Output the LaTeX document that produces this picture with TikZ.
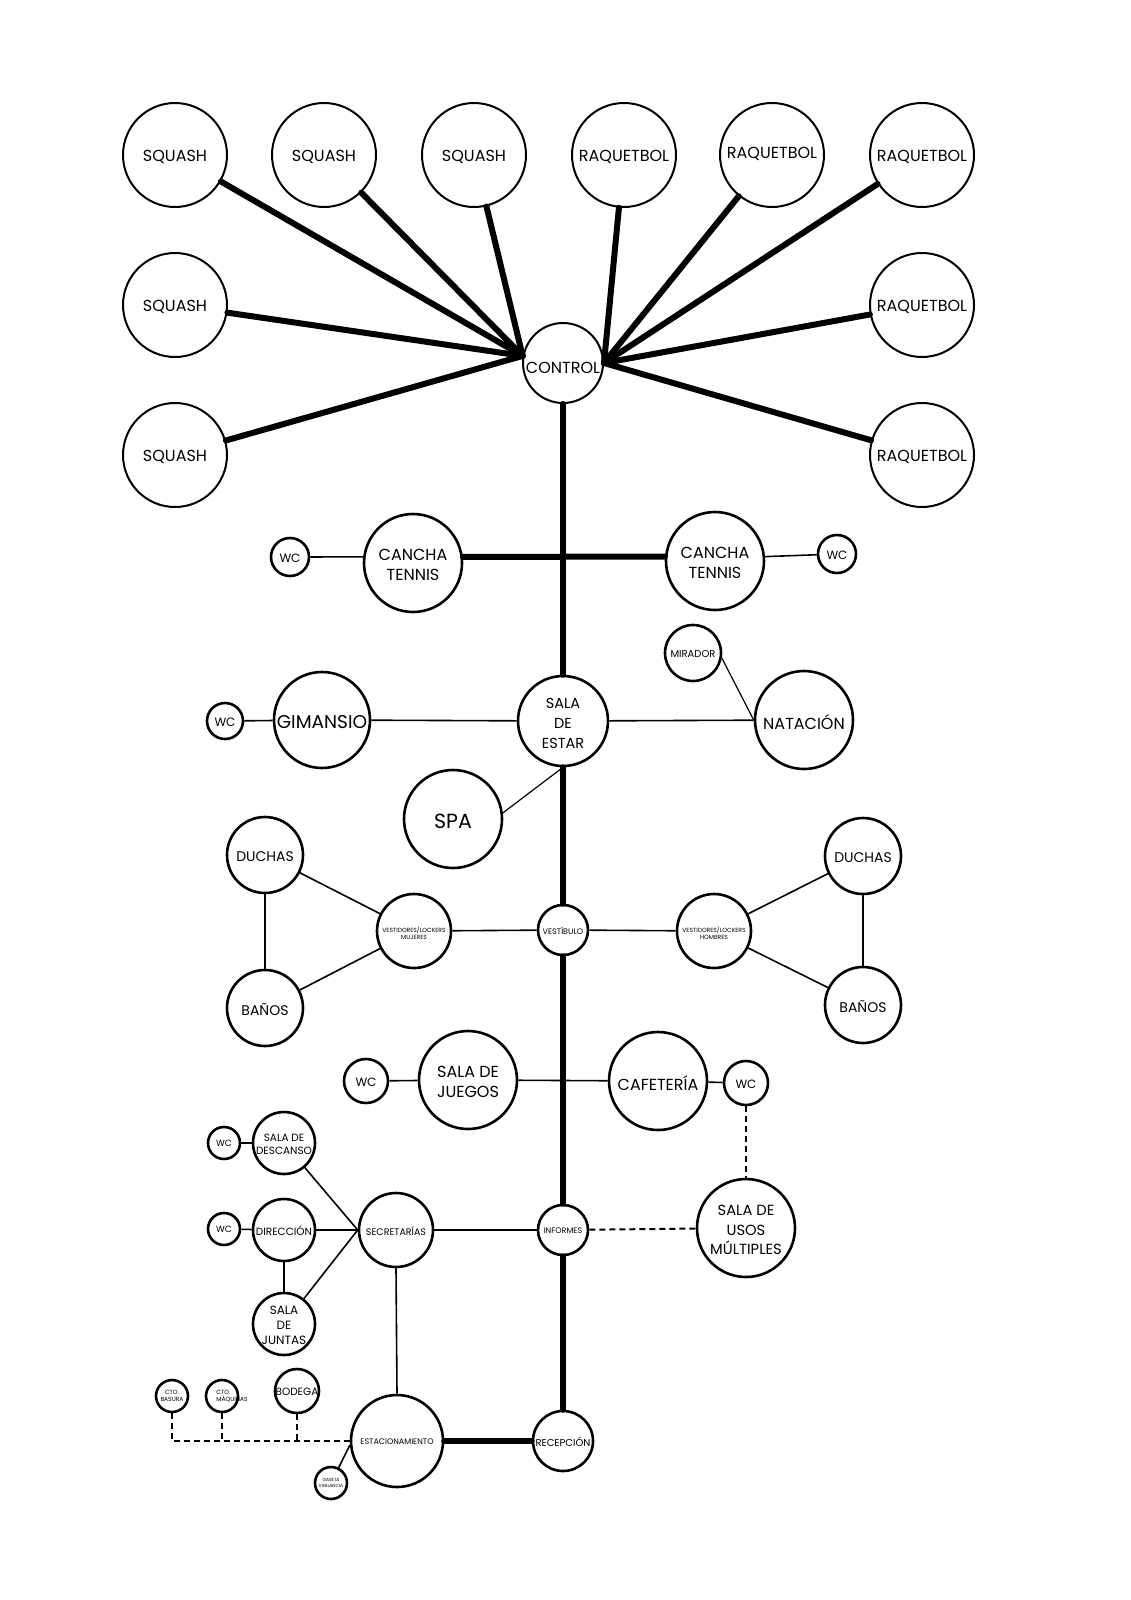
\documentclass[tikz,border=0pt]{standalone}
\usepackage{fontspec}
\setmainfont{Poppins}
\begin{document}
\begin{tikzpicture}[x=1pt,y=-1pt,
  room/.style={circle,draw,line width=2.6pt,inner sep=0pt,fill=white},
  toproom/.style={room,line width=2pt,minimum size=104pt},
  heavy/.style={line width=6pt,line cap=round},
  link/.style={line width=1.6pt},
  dlink/.style={line width=2pt,dash pattern=on 6pt off 4pt},
  fa/.style={font=\fontsize{4.5}{5.5}\selectfont,align=center},
  fb/.style={font=\fontsize{6}{7}\selectfont,align=center},
  fc/.style={font=\fontsize{8}{10}\selectfont,align=center,yshift=-1pt},
  fd/.style={font=\fontsize{9.5}{12}\selectfont,align=center,yshift=-1pt},
  fe/.style={font=\fontsize{10.5}{13}\selectfont,align=center,yshift=-1pt},
  ff/.style={font=\fontsize{12}{15}\selectfont,align=center,yshift=-1pt},
  fg/.style={font=\fontsize{14.5}{20}\selectfont,align=center,yshift=-2pt},
  fh/.style={font=\fontsize{16}{19.5}\selectfont,align=center,yshift=-2pt},
  fi/.style={font=\fontsize{18.5}{22}\selectfont,align=center,yshift=-2pt},
  fj/.style={font=\fontsize{20.5}{24}\selectfont,align=center,yshift=-2pt}
]
\fill[white] (0,0) rectangle (1130,1600);
\useasboundingbox (0,0) rectangle (1130,1600);

% ---------- top rooms ----------
\node[toproom,label={[fh]center:SQUASH}] (sq1) at (175,155) {};
\node[toproom,label={[fh]center:SQUASH}] (sq2) at (324,155) {};
\node[toproom,label={[fh]center:SQUASH}] (sq3) at (474,155) {};
\node[toproom,label={[fh]center:RAQUETBOL}] (rq1) at (624,155) {};
\node[toproom,label={[fh,yshift=3pt]center:RAQUETBOL}] (rq2) at (772,155) {};
\node[toproom,label={[fh]center:RAQUETBOL}] (rq3) at (922,155) {};
\node[toproom,label={[fh]center:SQUASH}] (sq4) at (175,305) {};
\node[toproom,label={[fh]center:SQUASH}] (sq5) at (175,455) {};
\node[toproom,label={[fh]center:RAQUETBOL}] (rq4) at (922,305) {};
\node[toproom,label={[fh]center:RAQUETBOL}] (rq5) at (922,455) {};
\node[room,line width=2pt,minimum size=80pt,label={[fh,yshift=-3pt]center:CONTROL}] (ctl) at (563,363) {};

% ---------- tennis ----------
\node[room,minimum size=98pt,label={[fh]center:CANCHA\\TENNIS}] (cl) at (413,563) {};
\node[room,minimum size=98pt,label={[fh]center:CANCHA\\TENNIS}] (cr) at (715,561) {};
\node[room,minimum size=38pt,label={[ff]center:WC}] (wl) at (290,557) {};
\node[room,minimum size=38pt,label={[ff]center:WC}] (wr) at (837,554) {};

% ---------- sala de estar ----------
\node[room,minimum size=90pt,label={[fg]center:SALA\\DE\\ESTAR}] (se) at (563,721) {};
\node[room,minimum size=96pt,label={[fi]center:GIMANSIO}] (gim) at (322,720) {};
\node[room,minimum size=36pt,label={[ff]center:WC}] (wg) at (225,721) {};
\node[room,minimum size=98pt,label={[fh]center:NATACIÓN}] (nat) at (804,720) {};
\node[room,minimum size=56pt,label={[font=\fontsize{10}{12}\selectfont,yshift=-1pt]center:MIRADOR}] (mir) at (693,653) {};
\node[room,minimum size=98pt,label={[fj]center:SPA}] (spa) at (453,819) {};

% ---------- vestibulo ----------
\node[room,minimum size=50pt,label={[fc]center:VESTÍBULO}] (ves) at (563,930) {};
\node[room,minimum size=74pt,label={[fb,yshift=-2pt]center:VESTIDORES/LOCKERS\\MUJERES}] (vm) at (414,931) {};
\node[room,minimum size=74pt,label={[fb,yshift=-2pt]center:VESTIDORES/LOCKERS\\HOMBRES}] (vh) at (714,931) {};
\node[room,minimum size=76pt,label={[font=\fontsize{14}{17}\selectfont,yshift=-2pt]center:DUCHAS}] (dl) at (265,855) {};
\node[room,minimum size=76pt,label={[font=\fontsize{14}{17}\selectfont,yshift=-2pt]center:BAÑOS}] (bl) at (265,1008) {};
\node[room,minimum size=76pt,label={[font=\fontsize{14}{17}\selectfont,yshift=-2pt]center:DUCHAS}] (dr) at (863,856) {};
\node[room,minimum size=76pt,label={[font=\fontsize{14}{17}\selectfont,yshift=-2pt]center:BAÑOS}] (br) at (863,1005) {};

% ---------- juegos / cafeteria ----------
\node[room,minimum size=98pt,label={[fh]center:SALA DE\\JUEGOS}] (sj) at (468,1080) {};
\node[room,minimum size=44pt,label={[ff]center:WC}] (wj) at (366,1081) {};
\node[room,minimum size=98pt,label={[fh]center:CAFETERÍA}] (caf) at (658,1081) {};
\node[room,minimum size=44pt,label={[ff]center:WC}] (wcaf) at (746,1083) {};

% ---------- informes ----------
\node[room,minimum size=50pt,label={[fc]center:INFORMES}] (inf) at (563,1230) {};
\node[room,minimum size=98pt,label={[font=\fontsize{14.7}{19.5}\selectfont,align=center,yshift=-2pt]center:SALA DE\\USOS\\MÚLTIPLES}] (usos) at (746,1228) {};
\node[room,minimum size=74pt,label={[fd]center:SECRETARÍAS}] (sec) at (396,1230) {};
\node[room,minimum size=32pt,label={[font=\fontsize{9}{11}\selectfont]center:WC}] (wd) at (224,1143) {};
\node[room,minimum size=62pt,label={[fe]center:SALA DE\\DESCANSO}] (sdes) at (284,1143) {};
\node[room,minimum size=32pt,label={[font=\fontsize{9}{11}\selectfont]center:WC}] (wdi) at (224,1229) {};
\node[room,minimum size=62pt,label={[fe]center:DIRECCIÓN}] (dir) at (284,1230) {};
\node[room,minimum size=62pt,label={[ff]center:SALA\\DE\\JUNTAS}] (sju) at (284,1324) {};

% ---------- bottom ----------
\node[room,minimum size=92pt,label={[fc]center:ESTACIONAMIENTO}] (est) at (397,1441) {};
\node[room,minimum size=60pt,label={[font=\fontsize{10}{12}\selectfont,yshift=-1pt]center:RECEPCIÓN}] (rec) at (563,1441) {};
\node[room,minimum size=32pt,label={[fb]center:CTO.\\BASURA}] (bas) at (172,1396) {};
\node[room,minimum size=32pt,label={[fb,align=left,xshift=10pt]center:CTO.\\MÁQUINAS}] (maq) at (222,1396) {};
\node[room,minimum size=44pt,label={[fe]center:BODEGA}] (bod) at (297,1391) {};
\node[room,minimum size=32pt,label={[fa]center:GASETA\\VIGILANCIA}] (gas) at (331,1483) {};

% ---------- heavy connectors ----------
\foreach \n in {sq1,sq2,sq3,sq4,sq5} \draw[heavy] (\n) -- (ctl.170);
\foreach \n in {rq1,rq2,rq3,rq4,rq5} \draw[heavy] (\n) -- (ctl.east);
\draw[heavy] (ctl.south) -- (se.north);
\draw[heavy] (cl.7) -- (cr.175);
\draw[heavy] (se.south) -- (ves.north);
\draw[heavy] (ves.south) -- (inf.north);
\draw[heavy] (inf.south) -- (rec.north);
\draw[heavy] (est.east) -- (rec.west);

% ---------- thin connectors ----------
\draw[link] (wl) -- (cl.173);
\draw[link] (cr.5) -- (wr);
\draw[link] (wg) -- (gim);
\draw[link] (gim) -- (se);
\draw[link] (se) -- (nat);
\draw[line width=1.2pt] (mir.-10) -- (nat.west);
\draw[line width=1.2pt] (spa.7) -- (se.south);
\draw[link] (dl) -- (bl);
\draw[link] (dl) -- (vm);
\draw[link] (bl) -- (vm);
\draw[link] (vm) -- (ves);
\draw[link] (ves) -- (vh);
\draw[link] (vh) -- (dr);
\draw[link] (vh) -- (br);
\draw[link] (dr) -- (br);
\draw[link] (wj) -- (sj);
\draw[link] (sj) -- (caf);
\draw[link] (caf) -- (wcaf);
\draw[dlink] (wcaf) -- (usos);
\draw[dlink] (inf) -- (usos);
\draw[link] (sec) -- (inf);
\draw[link] (wd) -- (sdes);
\draw[link] (wdi) -- (dir);
\draw[link] (sdes) -- (sec.west);
\draw[link] (dir) -- (sec.west);
\draw[link] (sju) -- (sec.west);
\draw[link] (dir) -- (sju);
\draw[link] (sec.south) -- (est.north);
\draw[link] (est.185) -- (gas);
\draw[dlink] (bas.south) -- (bas.south |- est.west) -- (est.west);
\draw[dlink] (maq.south) -- (maq.south |- est.west);
\draw[dlink] (bod.south) -- (bod.south |- est.west);
\end{tikzpicture}
\end{document}
